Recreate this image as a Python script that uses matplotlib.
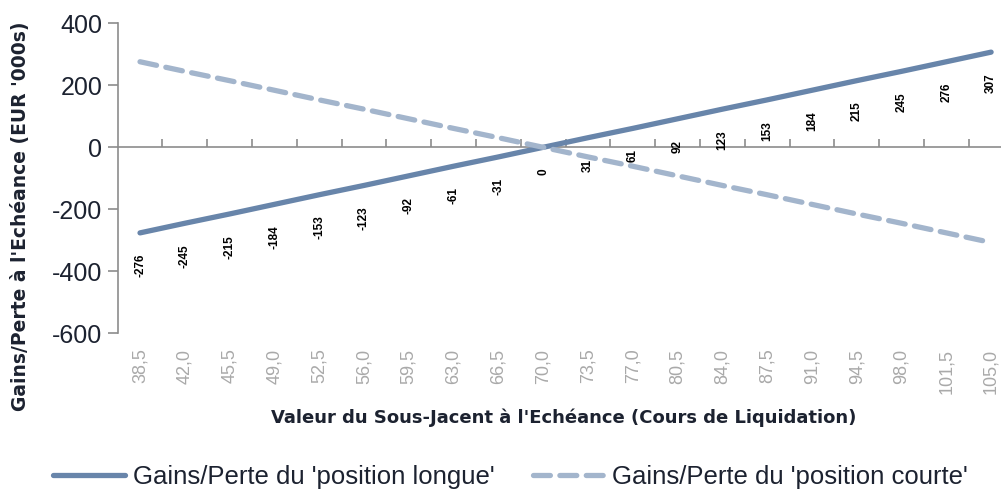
import matplotlib
matplotlib.use("Agg")
import matplotlib.pyplot as plt
import numpy as np

# cours de liquidation (x categories)
prix = ["38,5", "42,0", "45,5", "49,0", "52,5", "56,0", "59,5", "63,0", "66,5", "70,0",
        "73,5", "77,0", "80,5", "84,0", "87,5", "91,0", "94,5", "98,0", "101,5", "105,0"]
# gains/pertes en EUR '000s
pos_longue = [-276, -245, -215, -184, -153, -123, -92, -61, -31, 0,
              31, 61, 92, 123, 153, 184, 215, 245, 276, 307]
pos_courte = [276, 245, 215, 184, 153, 123, 92, 61, 31, 0,
              -31, -61, -92, -123, -153, -184, -215, -245, -276, -307]

plt.rcParams['font.family'] = ['Liberation Sans', 'DejaVu Sans']
plt.rcParams['axes.unicode_minus'] = False

c_long = '#6885aa'
c_court = '#a3b5cc'
c_axe = '#8c8c8c'
c_txt = '#1c2230'

fig = plt.figure(figsize=(10.01, 4.99), dpi=100)
ax = fig.add_axes([0.1175, 0.332, 0.895, 0.6213])

x = np.arange(len(prix))
ax.plot(x, pos_longue, color=c_long, lw=3.8, solid_capstyle='round',
        label="Gains/Perte du 'position longue'")
ax.plot(x, pos_courte, color=c_court, lw=3.8, dashes=(3.2, 1.8), dash_capstyle='round',
        label="Gains/Perte du 'position courte'")

for xi, v in zip(x, pos_longue):
    ax.annotate(str(v), (xi, v), xytext=(0, -21), textcoords='offset pixels',
                rotation=90, ha='center', va='top', fontsize=8.5,
                fontweight='bold', color='black')

ax.set_xlim(-0.5, len(prix) - 0.5)
ax.set_ylim(-600, 400)
ax.set_yticks([-600, -400, -200, 0, 200, 400])
ax.tick_params(axis='y', labelsize=18, labelcolor=c_txt, color=c_axe,
               length=7, width=1.2, direction='out', pad=4)

ax.set_xticks(x)
ax.set_xticklabels(prix, rotation=90, fontsize=13, color='#a9a9a9')
ax.tick_params(axis='x', length=0, pad=11)

for s in ['top', 'right', 'bottom']:
    ax.spines[s].set_visible(False)
ax.spines['left'].set_color(c_axe)
ax.spines['left'].set_linewidth(1.2)

# ligne du zero avec graduations
zero = ax.secondary_xaxis(0.6)
zero.set_xticks(np.arange(0.5, len(prix), 1.0))
zero.tick_params(length=6, width=1.2, color=c_axe, direction='out',
                 labelbottom=False, labeltop=False)
for s in zero.spines.values():
    s.set_color(c_axe)
    s.set_linewidth(1.2)

fig.text(0.02, 0.567, "Gains/Perte à l'Echéance (EUR '000s)", rotation=90,
         ha='center', va='center', fontsize=13.5, fontweight='bold',
         color=c_txt, family='DejaVu Sans')
fig.text(0.563, 0.162, "Valeur du Sous-Jacent à l'Echéance (Cours de Liquidation)",
         ha='center', va='center', fontsize=13, fontweight='bold',
         color=c_txt, family='DejaVu Sans')

fig.legend(loc='center', bbox_to_anchor=(0.51, 0.045), ncol=2, frameon=False,
           fontsize=18.5, handlelength=2.8, handletextpad=0.3, columnspacing=1.5,
           labelcolor=c_txt)

fig.savefig("out.png", dpi=100)
